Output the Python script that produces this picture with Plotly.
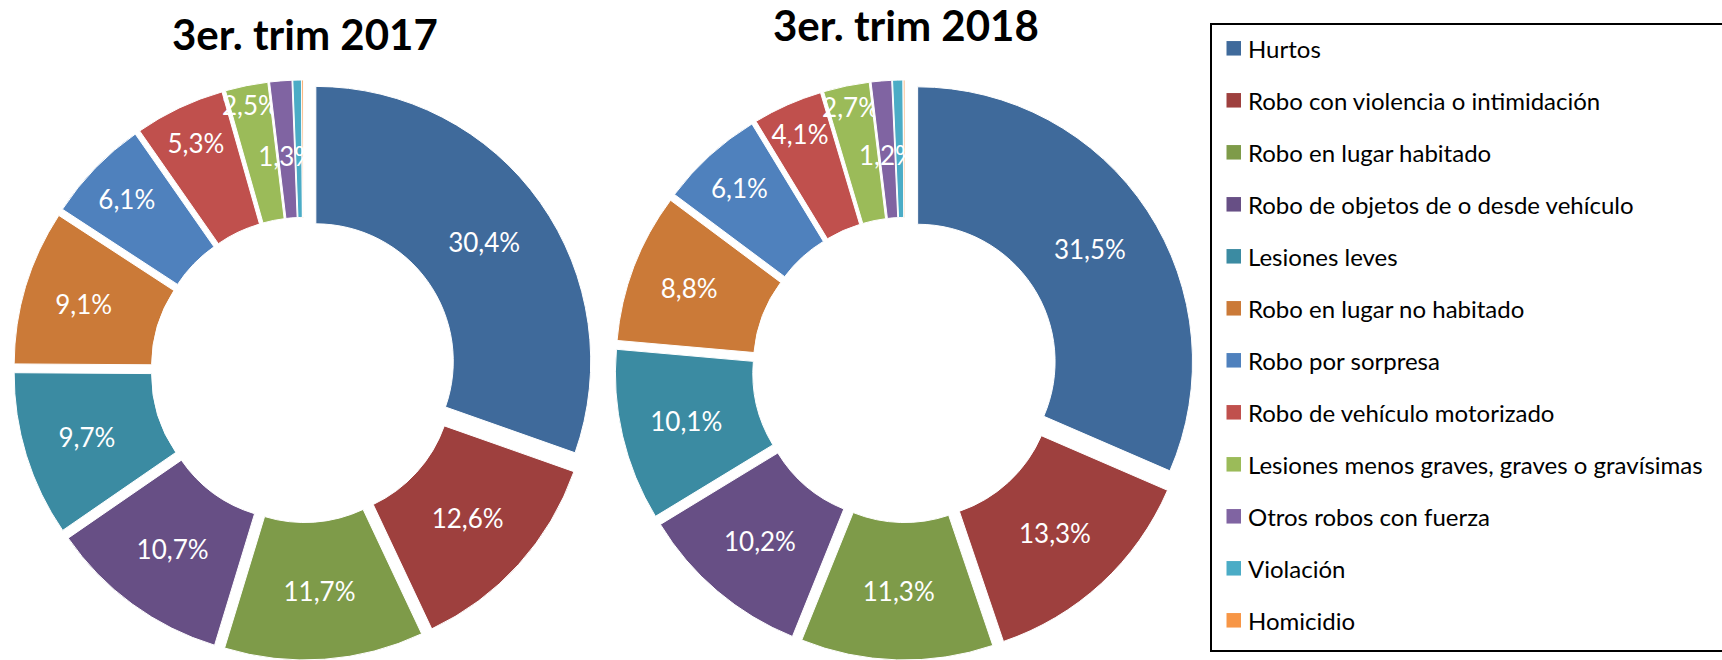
import plotly.graph_objects as go

# ---------------- data ----------------
categories = [
    "Hurtos",
    "Robo con violencia o intimidación",
    "Robo en lugar habitado",
    "Robo de objetos de o desde vehículo",
    "Lesiones leves",
    "Robo en lugar no habitado",
    "Robo por sorpresa",
    "Robo de vehículo motorizado",
    "Lesiones menos graves, graves o gravísimas",
    "Otros robos con fuerza",
    "Violación",
    "Homicidio",
]
values_2017 = [30.4, 12.6, 11.7, 10.7, 9.7, 9.1, 6.1, 5.3, 2.5, 1.3, 0.5, 0.1]
values_2018 = [31.5, 13.3, 11.3, 10.2, 10.1, 8.8, 6.1, 4.1, 2.7, 1.2, 0.6, 0.1]
titles = ["3er. trim 2017", "3er. trim 2018"]

colors = [
    "#3F6A9B", "#9E403E", "#7E9B49", "#674F85", "#3B8BA2", "#CB7A38",
    "#4F81BD", "#C0504D", "#9BBB59", "#8064A2", "#4BACC6", "#F79646",
]

W, H = 1722, 660
LABEL_MIN = 1.0   # slices below this get no label
FIT_MIN = 2.0     # labels of slices below this sit mid-ring (overlay pie)


def fmt(v):
    return f"{v:.1f}".replace(".", ",") + "%"


fig = go.Figure()

pie_specs = [
    (values_2017, 303.5, titles[0], 305, 34),
    (values_2018, 905.0, titles[1], 906, 25.5),
]
half = 290   # half size of pie box in px
k = 0.77     # overlay pie scale used to place the narrow-slice labels mid-ring
pull = 0.055

annotations = []
for vals, cx, title, tx, ty in pie_specs:
    common = dict(
        labels=categories, values=vals, textinfo="text", textposition="inside",
        insidetextorientation="horizontal",
        textfont=dict(family="Lato", size=26, color="white"),
        sort=False, direction="clockwise", rotation=0, pull=pull,
        showlegend=False,
    )
    fig.add_trace(go.Pie(
        text=[fmt(v) if v >= FIT_MIN else "" for v in vals],
        hole=0.5,
        marker=dict(colors=colors, line=dict(color="white", width=1)),
        domain=dict(x=[(cx - half) / W, (cx + half) / W], y=[0, 2 * half / H]),
        hoverinfo="label+percent",
        **common,
    ))
    # transparent overlay: only carries labels of narrow slices
    fig.add_trace(go.Pie(
        text=[fmt(v) if LABEL_MIN <= v < FIT_MIN else "" for v in vals],
        marker=dict(colors=["rgba(0,0,0,0)"] * len(vals), line=dict(width=0)),
        domain=dict(x=[(cx - k * half) / W, (cx + k * half) / W],
                    y=[(half - k * half) / H, (half + k * half) / H]),
        hoverinfo="skip",
        **common,
    ))
    annotations.append(dict(
        text=f"<b>{title}</b>", x=tx / W, y=1 - ty / H, xref="paper", yref="paper",
        xanchor="center", yanchor="middle", showarrow=False,
        font=dict(family="Lato", size=42, color="black"),
    ))

# ---------------- legend (boxed list) ----------------
shapes = [dict(
    type="rect", xref="paper", yref="paper",
    x0=1211 / W, x1=1.02, y0=1 - 651 / H, y1=1 - 24 / H,
    line=dict(color="black", width=2), fillcolor="rgba(0,0,0,0)",
)]
row0, gap, sq = 48.3, 52.0, 14.5
for i, (cat, col) in enumerate(zip(categories, colors)):
    yc = row0 + gap * i
    shapes.append(dict(
        type="rect", xref="paper", yref="paper",
        x0=1226.5 / W, x1=(1226.5 + sq) / W,
        y0=1 - (yc + sq / 2) / H, y1=1 - (yc - sq / 2) / H,
        line=dict(width=0), fillcolor=col,
    ))
    annotations.append(dict(
        text=cat, x=1246 / W, y=1 - yc / H, xref="paper", yref="paper",
        xanchor="left", yanchor="middle", showarrow=False,
        font=dict(family="Lato", size=24, color="black"),
    ))

fig.update_layout(
    width=W, height=H,
    margin=dict(l=0, r=0, t=0, b=0),
    paper_bgcolor="white", plot_bgcolor="white",
    showlegend=False,
    uniformtext=dict(minsize=26, mode="show"),
    annotations=annotations,
    shapes=shapes,
)

fig.write_html(
    "out.html",
    config={"displayModeBar": False},
    post_script="document.body.style.margin='0';document.body.style.overflow='hidden';",
)
